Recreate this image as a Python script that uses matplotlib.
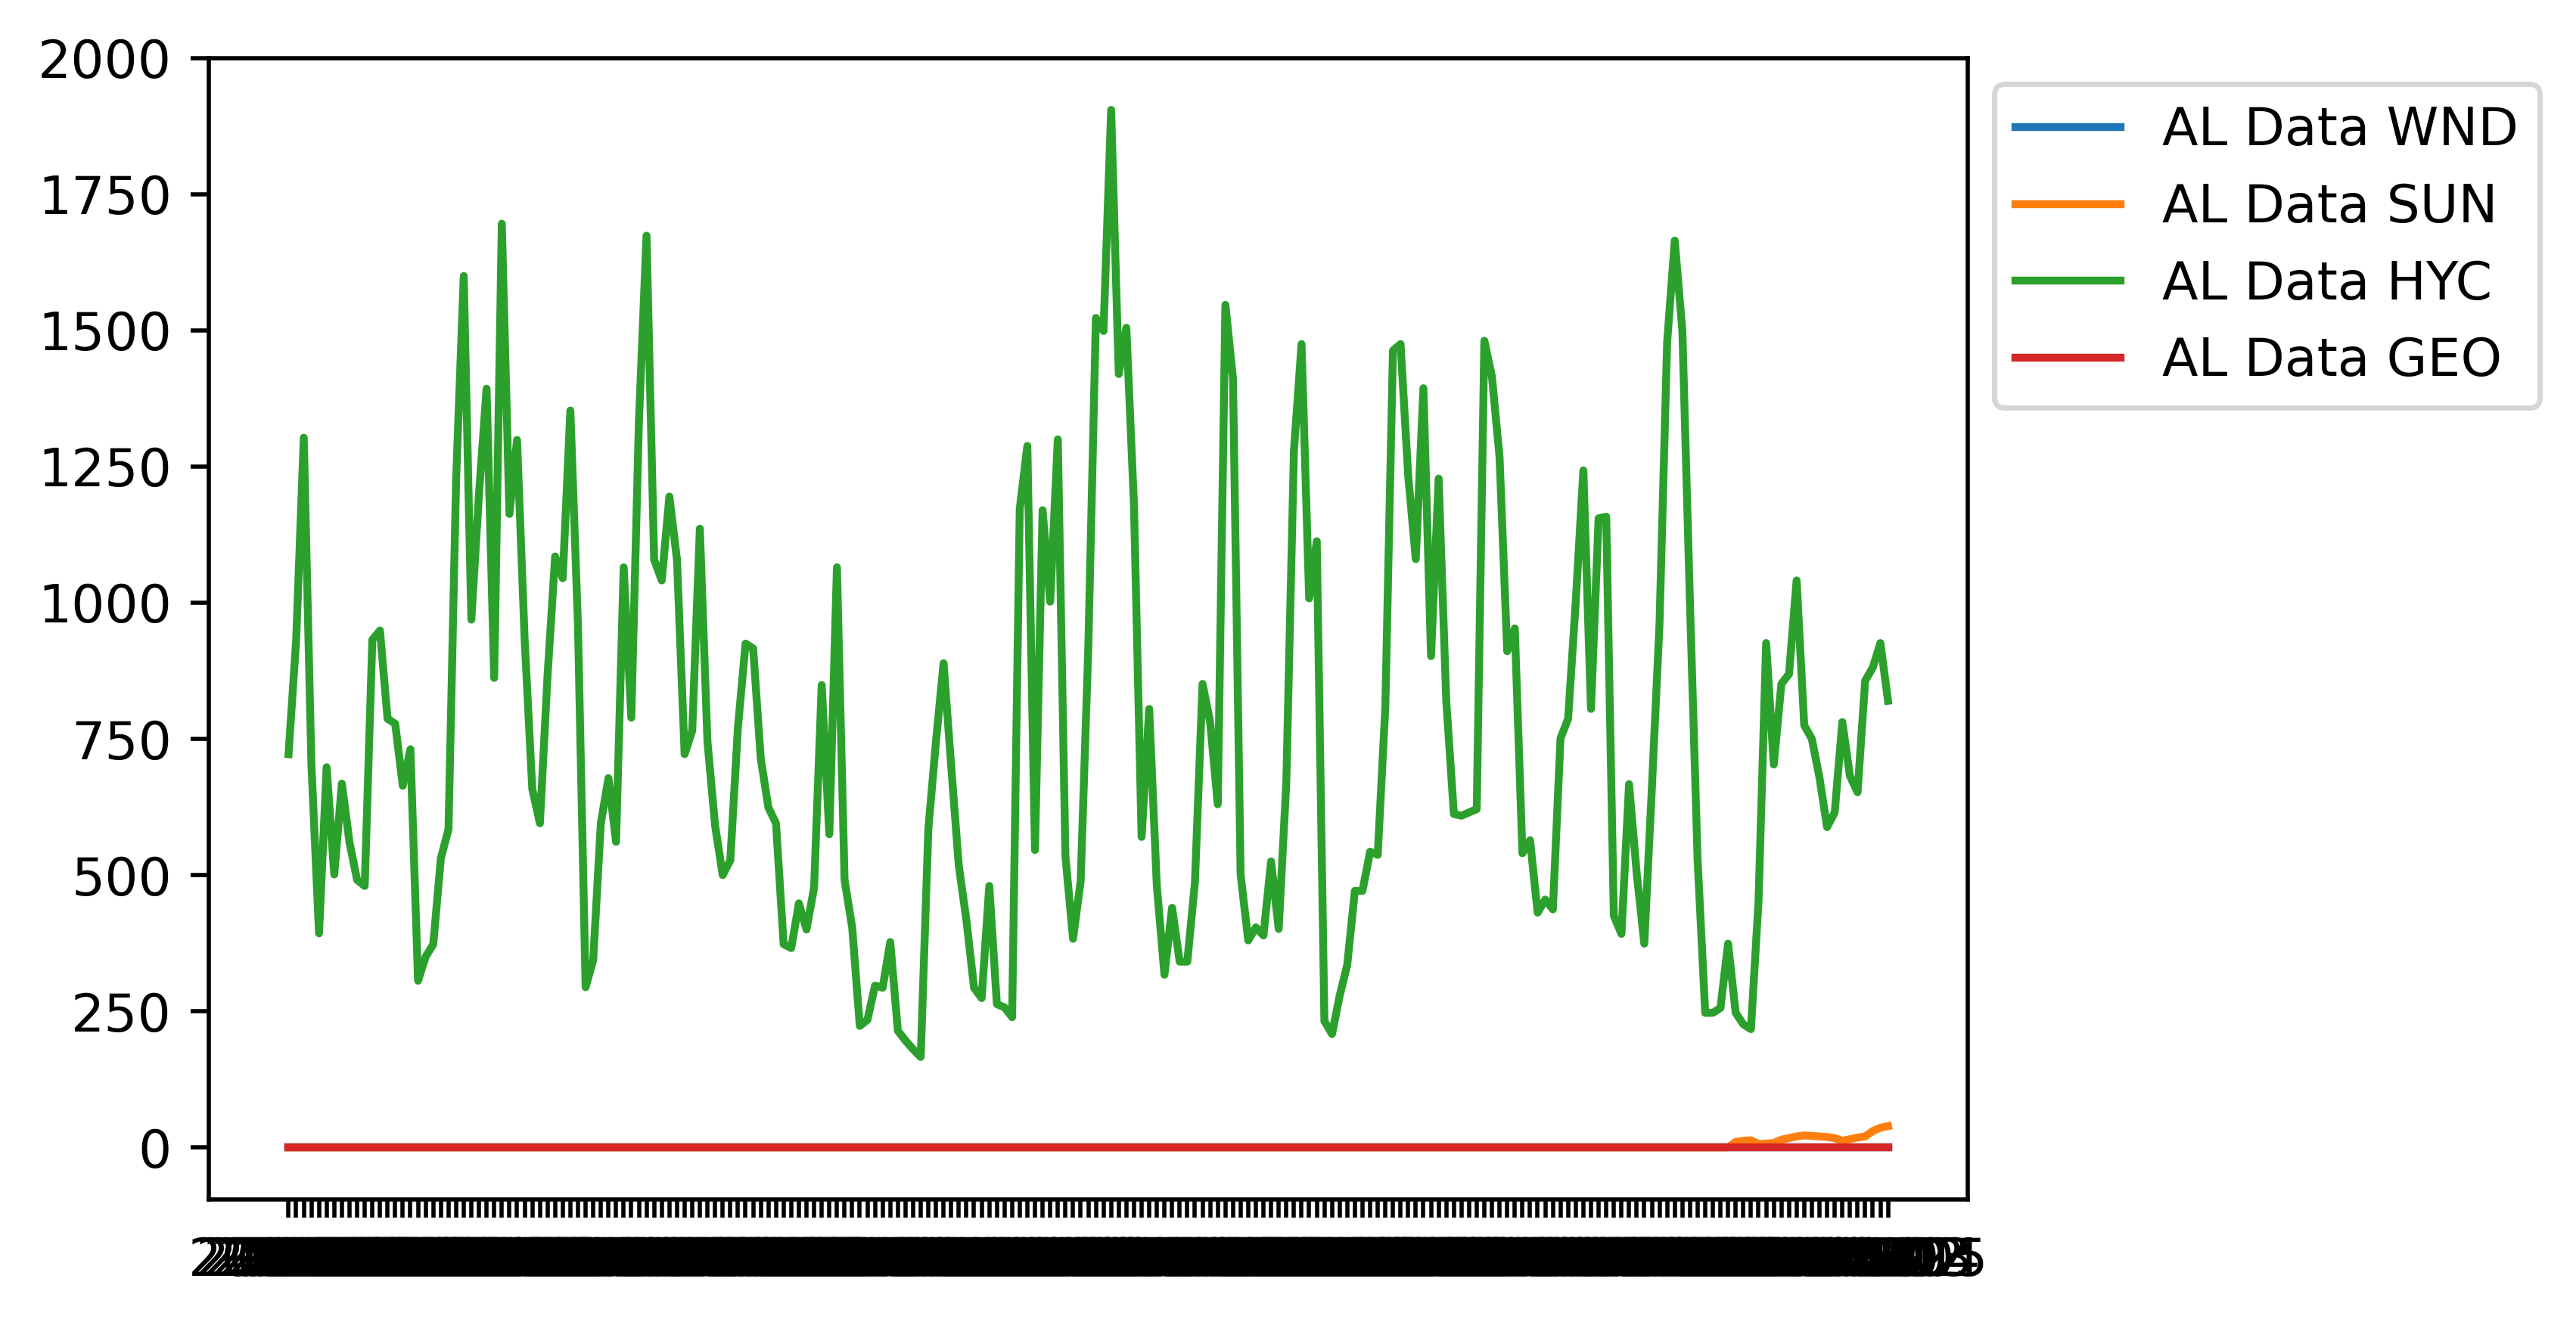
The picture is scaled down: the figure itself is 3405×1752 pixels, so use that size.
import numpy as np
import pandas as pd
import matplotlib
matplotlib.use('Agg')
import matplotlib.pyplot as plt

# monthly labels (YYYYMM)
months = pd.period_range('2007-11', periods=211, freq='M').strftime('%Y%m').tolist()

hyc = [722, 932, 1303, 704, 393, 698, 501, 668, 560, 491,
       480, 932, 949, 787, 778, 664, 731, 306, 350, 373,
       531, 584, 1226, 1600, 969, 1199, 1393, 862, 1696, 1163,
       1299, 932, 658, 595, 865, 1085, 1045, 1353, 958, 294,
       344, 595, 678, 561, 1065, 789, 1333, 1674, 1079, 1041,
       1195, 1079, 722, 765, 1136, 745, 591, 500, 527, 771,
       925, 916, 714, 624, 595, 373, 366, 448, 400, 477,
       849, 575, 1065, 491, 404, 223, 234, 297, 293, 377,
       214, 196, 180, 166, 584, 745, 889, 700, 517, 417,
       293, 274, 480, 263, 257, 239, 1172,
       1288, 546, 1170, 1002, 1300, 534, 383, 489, 917, 1523,
       1499, 1905, 1420, 1505, 1179, 570, 805, 480, 317, 440,
       341, 341, 486, 851, 781, 630, 1547, 1412, 501, 380,
       404, 389, 525, 401, 670, 1279, 1475, 1008, 1113, 232,
       208, 278, 335, 471, 471, 543, 537, 808, 1463, 1475,
       1234, 1080, 1394, 902, 1228, 820, 612, 609, 615, 621,
       1481, 1415, 1267, 911, 953, 540, 564, 431, 455, 437,
       751, 787, 1002, 1243, 805, 1155, 1158, 425, 392, 667,
       504, 374, 661, 962, 1478, 1665, 1499, 998, 528, 247,
       247, 256, 374, 247, 226, 217, 452, 926, 703, 851,
       869, 1041, 775, 750, 679, 588, 615, 781, 682, 652,
       857, 881, 926, 820]

sun = [0] * 190 + [10, 12, 13, 6, 7, 8, 14, 17, 20, 22,
                   21, 20, 19, 17, 12, 15, 18, 20, 30, 36, 39]
wnd = [0] * 211
geo = [0] * 211

fig = plt.figure(figsize=(3405 / 500, 1752 / 500), dpi=500)
ax = fig.add_axes([0.08097, 0.09492, 0.6830, 0.8613])

ax.plot(months, wnd, label='AL Data WND')
ax.plot(months, sun, label='AL Data SUN')
ax.plot(months, hyc, label='AL Data HYC')
ax.plot(months, geo, label='AL Data GEO')
ax.legend(loc='upper left', bbox_to_anchor=(1, 1))

fig.savefig('out.png', dpi=500)
